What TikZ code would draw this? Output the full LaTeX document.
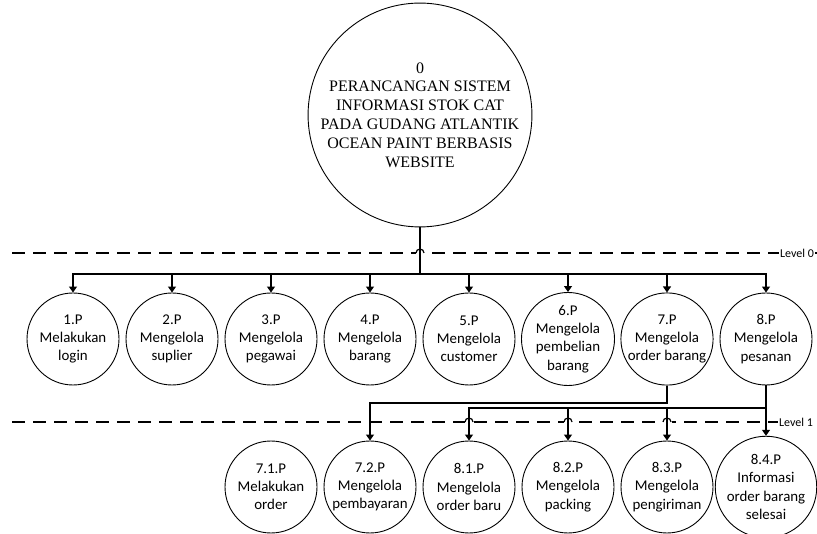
\documentclass[tikz,border=0pt]{standalone}
\usepackage{fontspec}
\setmainfont{Carlito}
\newfontfamily\serifff{Liberation Serif}
\usetikzlibrary{arrows.meta}
\begin{document}
\begin{tikzpicture}[x=1pt,y=-1pt,
  proc/.style={circle,draw,line width=0.9pt,minimum size=92pt,inner sep=0pt,align=center,
    font=\fontsize{14.9}{18.2}\selectfont},
  top/.style={circle,draw,line width=0.9pt,minimum size=214pt,inner sep=0pt,align=center,
    font=\serifff\fontsize{16}{18.8}\selectfont},
  arr/.style={-{Triangle[length=6pt,width=8pt]},line width=1.1pt},
  lvl/.style={dash pattern=on 13pt off 8pt,line width=1.6pt},
  lvllabel/.style={font=\fontsize{12}{14}\selectfont,fill=white,inner sep=0.8pt},
  hop/.style={line width=1.2pt}]
\useasboundingbox (0,0) rectangle (817,534);

% level lines
\draw[lvl] (12,253) -- (817,253);
\draw[lvl] (12,422) -- (810,422);
\node[lvllabel] (l0) at (797,253) {Level 0};
\node[lvllabel] (l1) at (796,422) {Level 1};

% hops
\foreach \hx/\hy in {420/253,469/422,568/422,667/422}{
  \fill[white] (\hx-4.5,\hy-1.5) rectangle (\hx+4.5,\hy+1.5);
  \draw[hop] (\hx-4,\hy) arc[start angle=180,end angle=360,radius=4];
}

% top process
\node[top] (p0) at (420,115) {0\\PERANCANGAN SISTEM\\INFORMASI STOK CAT\\PADA GUDANG ATLANTIK\\OCEAN PAINT BERBASIS\\WEBSITE};

% level 0 processes
\node[proc] (p1) at (73,339) {1.P\\Melakukan\\login};
\node[proc] (p2) at (172,339) {2.P\\Mengelola\\suplier};
\node[proc] (p3) at (271,339) {3.P\\Mengelola\\pegawai};
\node[proc] (p4) at (370,339) {4.P\\Mengelola\\barang};
\node[proc] (p5) at (469,339) {5.P\\Mengelola\\customer};
\node[proc] (p6) at (568,339) {6.P\\Mengelola\\pembelian\\barang};
\node[proc] (p7) at (667,339) {7.P\\Mengelola\\order barang};
\node[proc] (p8) at (766,339) {8.P\\Mengelola\\pesanan};

% level 1 processes
\node[proc] (q71) at (271,487) {7.1.P\\Melakukan\\order};
\node[proc] (q72) at (370,487) {7.2.P\\Mengelola\\pembayaran};
\node[proc] (q81) at (469,487) {8.1.P\\Mengelola\\order baru};
\node[proc] (q82) at (568,487) {8.2.P\\Mengelola\\packing};
\node[proc] (q83) at (667,487) {8.3.P\\Mengelola\\pengiriman};
\node[proc] (q84) at (766,487) {8.4.P\\Informasi\\order barang\\selesai};

% connectors level 0
\coordinate (bus) at (420,274);
\draw[line width=1.8pt] (p0.south) -- (bus);
\foreach \n in {p1,p2,p3,p4,p5,p6,p7,p8}
  \draw[arr] (bus) -| (\n.north);

% connectors level 1
\coordinate (b7) at (667,403);
\draw[arr] (p7.south) -- (b7) -| (q72.north);
\coordinate (b8) at (766,408);
\draw[line width=1.6pt] (p8.south) -- (b8);
\foreach \n in {q81,q82,q83,q84}
  \draw[arr] (b8) -| (\n.north);
\end{tikzpicture}
\end{document}
